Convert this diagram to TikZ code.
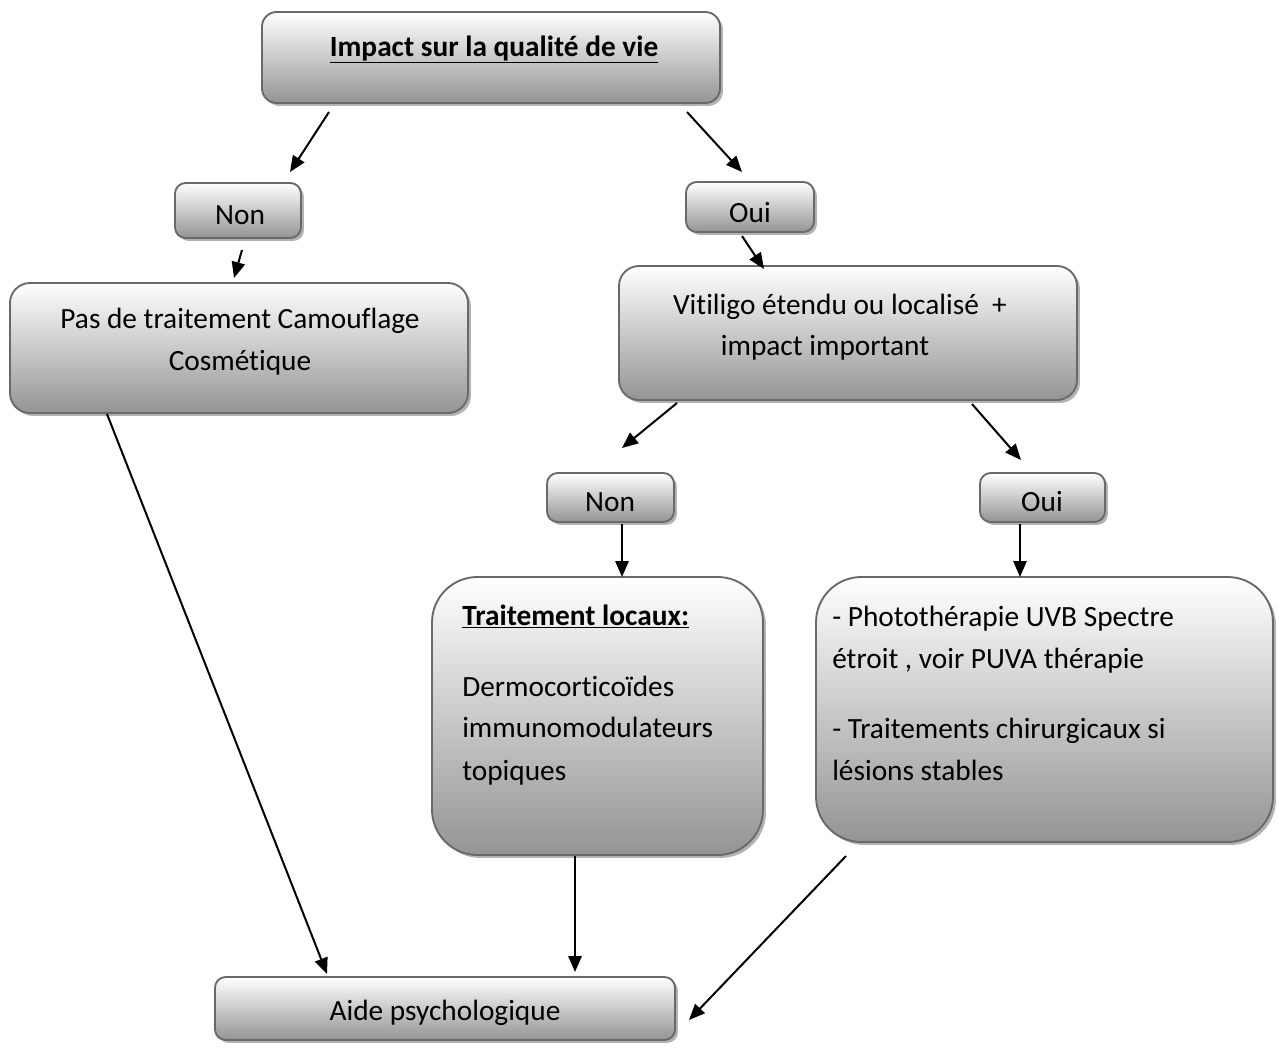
\documentclass[tikz,border=0pt]{standalone}
\usepackage{fontspec}
\setmainfont{Carlito}[RawFeature={-liga,-clig,-dlig}]
\usetikzlibrary{arrows.meta,shadows}
\begin{document}
\begin{tikzpicture}[x=0.75pt,y=-0.75pt,
  box/.style={draw={rgb,255:red,105;green,105;blue,105}, line width=1.4pt,
    top color=white, bottom color={rgb,255:red,148;green,148;blue,148},
    inner sep=0pt, outer sep=0pt,
    drop shadow={shadow xshift=2.2pt, shadow yshift=-2.2pt, fill=black, opacity=0.3}},
  txt/.style={anchor=base, inner sep=0pt, font=\fontsize{22}{31.5}\selectfont},
  ltxt/.style={anchor=base west, inner sep=0pt, font=\fontsize{22}{31.5}\selectfont},
  arr/.style={line width=1.5pt, -{Triangle[length=12pt,width=10pt]}}]
\useasboundingbox (0,0) rectangle (1279,1057);
\fill[white] (0,0) rectangle (1279,1057);
% boxes
\node[box, rounded corners=11pt, minimum width=458*0.75pt, minimum height=91*0.75pt] (top) at (491,57.5) {};
\node[box, rounded corners=8pt, minimum width=126*0.75pt, minimum height=55*0.75pt] (non1) at (238,210.5) {};
\node[box, rounded corners=8pt, minimum width=128*0.75pt, minimum height=50*0.75pt] (oui1) at (750,207) {};
\node[box, rounded corners=15pt, minimum width=458*0.75pt, minimum height=130*0.75pt] (pas) at (239,348) {};
\node[box, rounded corners=15pt, minimum width=458*0.75pt, minimum height=134*0.75pt] (vit) at (848,333) {};
\node[box, rounded corners=8pt, minimum width=127*0.75pt, minimum height=49*0.75pt] (non2) at (610.5,497.5) {};
\node[box, rounded corners=8pt, minimum width=125*0.75pt, minimum height=49*0.75pt] (oui2) at (1042.5,497.5) {};
\node[box, rounded corners=34pt, minimum width=331*0.75pt, minimum height=278*0.75pt] (trait) at (597.5,716) {};
\node[box, rounded corners=34pt, minimum width=457*0.75pt, minimum height=265*0.75pt] (photo) at (1044.5,709.5) {};
\node[box, rounded corners=8pt, minimum width=460*0.75pt, minimum height=63*0.75pt] (aide) at (445,1008.5) {};
% texts
\node[txt] (ttop) at (494,56) {\textbf{\underline{Impact sur la qualité de vie}}};
\node[txt] (tnon1) at (240,224) {Non};
\node[txt] (toui1) at (750,222) {Oui};
\node[txt] (tpas1) at (240,328) {Pas de traitement Camouflage};
\node[txt] (tpas2) at (240,370) {Cosmétique};
\node[txt] (tvit1) at (840,314) {Vitiligo étendu ou localisé~~+};
\node[txt] (tvit2) at (825,355) {impact important};
\node[txt] (tnon2) at (610,511) {Non};
\node[txt] (toui2) at (1042,511) {Oui};
\node[ltxt] (ttr1) at (462,625) {\textbf{\underline{Traitement locaux:}}};
\node[ltxt] (ttr2) at (462,696) {Dermocorticoïdes};
\node[ltxt] (ttr3) at (462,737) {immunomodulateurs};
\node[ltxt] (ttr4) at (462,780) {topiques};
\node[ltxt] (tph1) at (832,626) {- Photothérapie UVB Spectre};
\node[ltxt] (tph2) at (832,668) {étroit , voir PUVA thérapie};
\node[ltxt] (tph3) at (832,738) {- Traitements chirurgicaux si};
\node[ltxt] (tph4) at (832,780) {lésions stables};
\node[txt] (taide) at (445,1020) {Aide psychologique};
% connector end points
\coordinate (a1s) at (329,112); \coordinate (a1e) at (290,172);
\coordinate (a2s) at (687,112); \coordinate (a2e) at (742,172);
\coordinate (a3s) at (242,250); \coordinate (a3e) at (234,278);
\coordinate (a4s) at (742,236); \coordinate (a4e) at (764,269);
\coordinate (a5s) at (677,403); \coordinate (a5e) at (622,448);
\coordinate (a6s) at (972,404); \coordinate (a6e) at (1021,460);
\coordinate (a7s) at (622,524); \coordinate (a7e) at (622,577);
\coordinate (a8s) at (1020,524); \coordinate (a8e) at (1020,577);
\coordinate (a9s) at (107,414); \coordinate (a9e) at (327,974);
\coordinate (a10s) at (575,856); \coordinate (a10e) at (575,972);
\coordinate (a11s) at (846,856); \coordinate (a11e) at (689,1020);
\draw[arr] (a1s) -- (a1e);
\draw[arr] (a2s) -- (a2e);
\draw[arr] (a3s) -- (a3e);
\draw[arr] (a4s) -- (a4e);
\draw[arr] (a5s) -- (a5e);
\draw[arr] (a6s) -- (a6e);
\draw[arr] (a7s) -- (a7e);
\draw[arr] (a8s) -- (a8e);
\draw[arr] (a9s) -- (a9e);
\draw[arr] (a10s) -- (a10e);
\draw[arr] (a11s) -- (a11e);
\end{tikzpicture}
\end{document}
